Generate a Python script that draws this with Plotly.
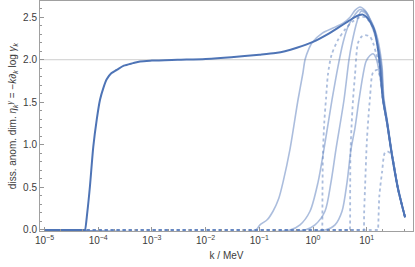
import plotly.graph_objects as go

# ---- data (k in MeV, eta values) ----
k_main = [1e-5, 5.6e-5, 5.68e-5, 6.27e-5, 7.03e-5, 8.1e-5, 9.4e-5, 1.08e-4, 1.25e-4, 1.44e-4, 1.75e-4, 2.21e-4,
          3.0e-4, 4.45e-4, 6e-4, 1e-3, 3e-3, 1e-2, 3e-2, 0.1, 0.2, 0.3, 0.5, 1.0, 2.0, 3.0, 4.5, 6.0,
          7.3, 8.5, 10.0, 11.5, 13.0, 14.3, 16.0, 17.7, 20.1, 23.9, 29.6, 38.3, 51.7]
eta_main = [0, 0, 0, 0.21, 0.52, 0.98, 1.30, 1.53, 1.67, 1.77, 1.84, 1.88,
            1.93, 1.96, 1.98, 1.99, 2.0, 2.01, 2.03, 2.06, 2.08, 2.10, 2.14, 2.21, 2.31, 2.38, 2.45, 2.50,
            2.525, 2.53, 2.50, 2.45, 2.39, 2.32, 2.15, 1.92, 1.53, 1.26, 0.87, 0.48, 0.15]

k_solA = [1e-5, 0.085, 0.103, 0.14, 0.18, 0.23, 0.276, 0.373, 0.526, 0.651, 0.71, 0.84, 0.958, 1.47, 2.5,
          3.62, 4.89, 6.05, 7.5, 9.3, 11.5, 13.5, 15.6, 17.5, 19.3, 20.8, 24.3, 30.0, 38.8, 52.0]
eta_solA = [0, 0, 0.06, 0.12, 0.22, 0.37, 0.56, 0.95, 1.53, 1.85, 2.0, 2.13, 2.2, 2.31, 2.38,
            2.43, 2.50, 2.58, 2.62, 2.58, 2.48, 2.39, 2.27, 2.12, 1.92, 1.56, 1.27, 0.88, 0.49, 0.15]

k_solB = [1e-5, 0.373, 0.573, 0.879, 1.24, 1.60, 2.26, 2.92, 3.62, 4.49, 6.05, 7.5, 9.7, 12.0, 15.2,
          18.8, 20.5, 24.2, 29.9, 38.6, 51.9]
eta_solB = [0, 0, 0.06, 0.22, 0.56, 0.95, 1.53, 1.92, 2.2, 2.39, 2.53, 2.59, 2.56, 2.45, 2.25,
            1.92, 1.55, 1.27, 0.88, 0.48, 0.15]

k_solC = [1e-5, 0.71, 1.09, 1.67, 2.16, 2.68, 3.78, 4.68, 5.32, 6.6, 7.83, 9.7, 12.0, 15.0,
          18.5, 20.3, 24.0, 29.8, 38.5, 51.8]
eta_solC = [0, 0, 0.06, 0.22, 0.56, 0.95, 1.53, 2.0, 2.2, 2.45, 2.57, 2.54, 2.42, 2.24,
            1.92, 1.54, 1.26, 0.87, 0.48, 0.15]

k_solD = [1e-5, 1.67, 2.57, 3.47, 4.30, 5.10, 6.05, 7.19, 8.53, 9.7, 11.5, 13.1, 14.9, 17.7,
          20.1, 23.9, 29.6, 38.3, 51.7]
eta_solD = [0, 0, 0.06, 0.22, 0.56, 0.95, 1.2, 1.53, 1.82, 1.98, 2.05, 2.07, 2.02, 1.80,
            1.53, 1.26, 0.87, 0.48, 0.15]

k_dot1 = [1e-5, 1.46, 1.47, 1.50, 1.53, 1.62, 1.75, 1.9, 2.2, 2.9, 4.0, 5.5, 7.5, 9.3, 11.5, 14.3, 17.7,
          20.1, 23.9, 29.6, 38.3, 51.7]
eta_dot1 = [0, 0, 0, 0.45, 0.89, 1.26, 1.55, 1.83, 2.05, 2.23, 2.36, 2.45, 2.50, 2.50, 2.44, 2.31, 1.92,
            1.53, 1.26, 0.87, 0.48, 0.15]

k_dot2 = [1e-5, 4.83, 4.85, 4.92, 4.98, 5.2, 5.56, 6.05, 6.9, 8.0, 9.3, 11.5, 13.1, 14.9, 17.0,
          20.1, 23.9, 29.6, 38.3, 51.7]
eta_dot2 = [0, 0, 0, 0.5, 0.89, 1.2, 1.53, 1.82, 2.2, 2.27, 2.29, 2.27, 2.2, 2.08, 1.95,
            1.53, 1.26, 0.87, 0.48, 0.15]

k_dot3 = [1e-5, 8.82, 8.85, 8.95, 9.29, 10.1, 11.5, 13.1, 15.6, 17.7, 19.3, 20.1, 23.9, 29.6, 38.3, 51.7]
eta_dot3 = [0, 0, 0, 0.2, 0.48, 1.06, 1.55, 1.85, 1.88, 1.80, 1.65, 1.53, 1.26, 0.87, 0.48, 0.15]

k_dot4 = [1e-5, 16.15, 16.2, 17.2, 19.3, 21.9, 24.9, 29.6, 38.3, 51.7]
eta_dot4 = [0, 0, 0, 0.4, 0.68, 0.91, 0.92, 0.87, 0.48, 0.15]

x_tickvals = [1e-5, 1e-4, 1e-3, 1e-2, 1e-1, 1, 10]
x_ticktext = ["10<sup>−5</sup>", "10<sup>−4</sup>", "10<sup>−3</sup>", "10<sup>−2</sup>",
              "10<sup>−1</sup>", "10<sup>0</sup>", "10<sup>1</sup>"]

DARK = "rgb(78,116,182)"
LIGHT = "rgba(94,129,190,0.52)"

fig = go.Figure()

light_solid = [(k_solA, eta_solA), (k_solB, eta_solB), (k_solC, eta_solC), (k_solD, eta_solD)]
dotted = [(k_dot1, eta_dot1), (k_dot2, eta_dot2), (k_dot3, eta_dot3), (k_dot4, eta_dot4)]

for kx, ey in dotted:
    fig.add_trace(go.Scatter(x=kx, y=ey, mode="lines",
                             line=dict(color=LIGHT, width=1.8, dash="dot", shape="spline", smoothing=0.8),
                             showlegend=False, hoverinfo="skip"))
for kx, ey in light_solid:
    fig.add_trace(go.Scatter(x=kx, y=ey, mode="lines",
                             line=dict(color=LIGHT, width=1.6, shape="spline", smoothing=0.8),
                             showlegend=False, hoverinfo="skip"))
fig.add_trace(go.Scatter(x=k_main, y=eta_main, mode="lines",
                         line=dict(color=DARK, width=2, shape="spline", smoothing=0.8),
                         showlegend=False, hoverinfo="skip"))

fig.add_hline(y=2.0, line=dict(color="rgb(205,205,205)", width=1), layer="below")

axis_common = dict(showline=True, linecolor="rgb(160,160,160)", linewidth=1, mirror=True,
                   ticks="inside", tickcolor="rgb(150,150,150)", ticklen=4,
                   showgrid=False, zeroline=False,
                   tickfont=dict(size=10, color="rgb(60,60,60)"))

fig.update_xaxes(type="log", range=[-5.084, 1.862], tickvals=x_tickvals, ticktext=x_ticktext,
                 minor=dict(ticks="inside", ticklen=2, tickcolor="rgb(150,150,150)", showgrid=False),
                 title=dict(text="k / MeV", font=dict(size=10, color="rgb(60,60,60)"), standoff=6),
                 **axis_common)
fig.update_yaxes(range=[-0.012, 2.69], dtick=0.5, tickformat=".1f",
                 minor=dict(ticks="inside", ticklen=2, dtick=0.1, tickcolor="rgb(150,150,150)", showgrid=False),
                 title=dict(text="diss. anom. dim. <i>η</i><sub><i>k</i></sub><sup><i>γ</i></sup> = −<i>k</i>∂<sub><i>k</i></sub> log <i>γ</i><sub><i>k</i></sub>",
                            font=dict(size=10, color="rgb(60,60,60)"), standoff=4),
                 **axis_common)

fig.update_layout(width=415, height=267, margin=dict(l=40, r=2, t=1, b=36),
                  paper_bgcolor="white", plot_bgcolor="white",
                  font=dict(family="Liberation Sans, Arial, sans-serif", size=10))

fig.write_html("out.html", config={"displayModeBar": False},
               post_script="document.body.style.margin='0';")
